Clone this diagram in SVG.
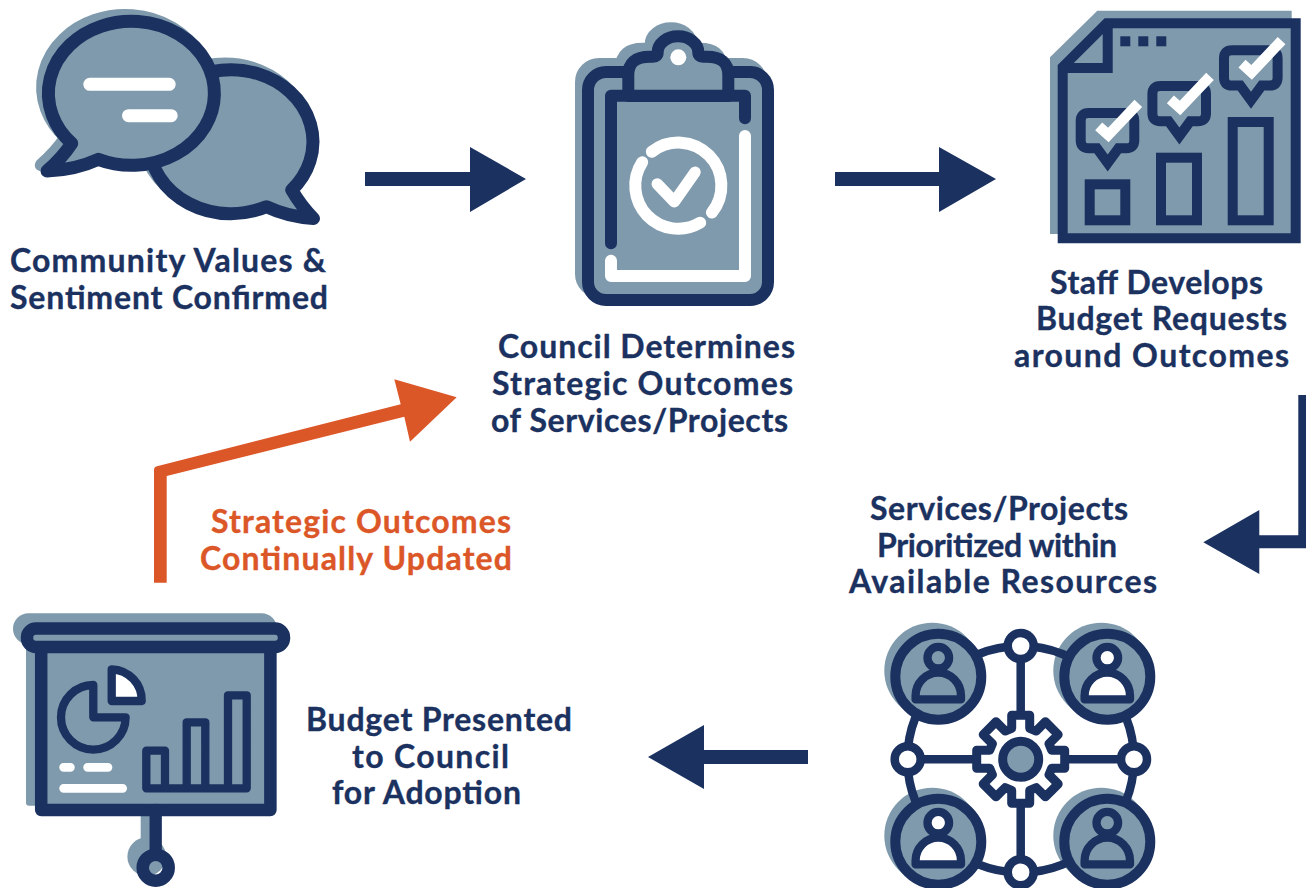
<svg xmlns="http://www.w3.org/2000/svg" width="1306" height="888" viewBox="0 0 1306 888">
<style>
.n{stroke:#1b3160;fill:none;stroke-linecap:round;stroke-linejoin:round}
.sl{fill:#7f9aac}
.nf{fill:#1b3160}
.w{stroke:#fff;fill:none;stroke-linecap:round;stroke-linejoin:round}
.or{fill:#dc5728}
text{font-family:"Lato","Liberation Sans",sans-serif;font-weight:700;font-size:32px;fill:#1b3160;stroke:#1b3160;stroke-width:.35px}
text.ot{fill:#dc5728;stroke:#dc5728}
</style>
<defs>
<path id="lb" d="M71.7,143.3A83,72 0 1 1 98.3,159.3Q75,170 47,171Q62,158 71.7,143.3Z"/>
<path id="rb" d="M291.8,190A82,72 0 1 0 266.3,206.7Q288,217 313.5,218.5Q301,206 291.8,190Z"/>
<path id="body" d="M-22.7,22.7V19A22.7,23 0 0 1 22.7,19V22.7Z"/>
<g id="pin"><path d="M1088.7,113H1126.3Q1134.3,113 1134.3,121V140.3Q1134.3,148.3 1126.3,148.3H1118.5L1107.7,163L1096.9,148.3H1088.7Q1080.7,148.3 1080.7,140.3V121Q1080.7,113 1088.7,113Z" fill="#7f9aac" stroke="#1b3160" stroke-width="10" stroke-miterlimit="8"/><path d="M1098.7,126.3L1108.3,135L1138.3,103.3" fill="none" stroke="#fff" stroke-width="10.5"/></g>
<g id="pers"><circle cx="0" cy="0" r="43" fill="#7f9aac" stroke="#1b3160" stroke-width="10"/></g>
</defs>
<g id="connectors">
<path class="nf" d="M365,172H470V147L526,179L470,212V186H365Z"/>
<path class="nf" d="M835,172H939V147L996,179L939,212V186H835Z"/>
<path class="nf" d="M1298.3,395H1306V548.3H1259.3V574L1203.3,542.3L1259.3,510V535.3H1298.3Z"/>
<path class="nf" d="M808,750H704V725L648,757L704,789V764H808Z"/>
<path class="or" d="M154,582.7V470Q154,467 157,466.2L400.7,404.3L394.3,379.3L456.7,397.3L410,441.7L404.3,416.7L166.7,476V582.7Z"/>
</g>
<g id="node-community">
<g class="sl" stroke="#7f9aac" stroke-width="12.5" stroke-linejoin="round" transform="translate(-6,-6)"><use href="#rb"/><use href="#lb"/></g>
<g class="sl" stroke="#1b3160" stroke-width="13" stroke-linejoin="round"><use href="#rb"/><use href="#lb"/></g>
<path class="w" stroke-width="13" d="M89.8,84.3H169.2M128.5,115.7H171.2"/>
<text x="10" y="272" textLength="316">Community Values &amp;</text>
<text x="10" y="309" textLength="318">Sentiment Confirmed</text>
</g>
<g id="node-council">
<g transform="translate(-7,-8)" class="sl" stroke="#7f9aac" stroke-width="12" stroke-linejoin="round"><rect x="588" y="72" width="180" height="228" rx="18"/><path d="M628.3,90V75Q628.3,56.7 650,56.7H653Q657.7,56.7 657.7,52.3A20.3,16 0 0 1 698.3,52.3Q698.3,56.7 703,56.7H706.7Q728.3,56.7 728.3,75V90Z"/></g>
<rect x="588" y="72" width="180" height="228" rx="18" class="sl" stroke="#1b3160" stroke-width="12"/>
<path class="sl" stroke="#1b3160" stroke-width="12" stroke-linejoin="round" d="M628.3,96V75Q628.3,56.7 650,56.7H653Q657.7,56.7 657.7,52.3A20.3,16 0 0 1 698.3,52.3Q698.3,56.7 703,56.7H706.7Q728.3,56.7 728.3,75V96Z"/>
<circle cx="678.3" cy="57.3" r="8" fill="#fff"/>
<path class="n" stroke-width="12" d="M611,243.3V95.7H745V118.3"/>
<path class="w" stroke-width="12" d="M745,136V276H611V260.7"/>
<path class="w" stroke-width="12" d="M651.8,151.8A43,43 0 0 1 711.95,212.47M642.2,162.3A43,43 0 0 0 700.2,222.7"/>
<path class="w" stroke-width="11.5" d="M657.3,184L674.3,201.7L695,172.3"/>
<text x="498" y="358" textLength="297">Council Determines</text>
<text x="492" y="395" textLength="301">Strategic Outcomes</text>
<text x="491" y="432" textLength="297">of Services/Projects</text>
</g>
<g id="node-staff">
<path class="sl" d="M1097.3,10.7H1291.7V234H1050V57.3Z"/>
<path class="sl" stroke="#1b3160" stroke-width="10" stroke-miterlimit="8" d="M1106.7,23.3H1295.7V238.3H1062.7V67Z"/>
<path fill="none" stroke="#1b3160" stroke-width="10" d="M1107.7,23V68H1062"/>
<rect class="nf" x="1120.3" y="36.3" width="10" height="10"/><rect class="nf" x="1138.3" y="36.3" width="10" height="10"/><rect class="nf" x="1156.3" y="36.3" width="10" height="10"/>
<g fill="none" stroke="#1b3160" stroke-width="10"><rect x="1089.7" y="184.3" width="35.6" height="36"/><rect x="1161" y="157.7" width="36" height="62.6"/><rect x="1232.7" y="122" width="36" height="98.3"/></g>
<use href="#pin"/><use href="#pin" x="71.7" y="-27"/><use href="#pin" x="143.3" y="-62.7"/>
<text x="1050" y="294" textLength="213">Staff Develops</text>
<text x="1036" y="330" textLength="251">Budget Requests</text>
<text x="1014" y="367" textLength="275">around Outcomes</text>
</g>
<g id="node-prioritized">
<g class="sl"><circle cx="932.3" cy="670.7" r="48"/><circle cx="1101.3" cy="670.7" r="48"/><circle cx="932.3" cy="835.7" r="48"/><circle cx="1101.3" cy="835.7" r="48"/></g>
<circle class="n" stroke-width="8.5" cx="1020.7" cy="759.3" r="113.3"/>
<path class="n" stroke-width="8.5" d="M1020.7,646V872.3M907.7,759.3H1134"/>
<use href="#pers" x="938.3" y="676.7"/><use href="#pers" x="1107.3" y="676.7"/><use href="#pers" x="938.3" y="841.7"/><use href="#pers" x="1107.3" y="841.7"/>
<g stroke="#1b3160" stroke-width="8.3" stroke-linejoin="round">
<g class="sl" transform="translate(938.3,676.7)"><use href="#body"/><circle cy="-19" r="10.8"/></g>
<g fill="#fff" transform="translate(1107.3,676.7)"><use href="#body"/><circle cy="-19" r="10.8"/></g>
<g fill="#fff" transform="translate(938.3,841.7)"><use href="#body"/><circle cy="-19" r="10.8"/></g>
<g class="sl" transform="translate(1107.3,841.7)"><use href="#body"/><circle cy="-19" r="10.8"/></g>
</g>
<g fill="#fff" stroke="#1b3160" stroke-width="8.5"><circle cx="1020.7" cy="646" r="13"/><circle cx="907.7" cy="759.3" r="13"/><circle cx="1134" cy="759.3" r="13"/><circle cx="1020.7" cy="872.3" r="13"/></g>
<path transform="translate(1020.7,759.3)" fill="#fff" stroke="#1b3160" stroke-width="9" stroke-linejoin="round" d="M-9,-31V-44H9V-31L15.5,-28.3L24.7,-37.5L37.5,-24.7L28.3,-15.5L31,-9H44V9H31L28.3,15.5L37.5,24.7L24.7,37.5L15.5,28.3L9,31V44H-9V31L-15.5,28.3L-24.7,37.5L-37.5,24.7L-28.3,15.5L-31,9H-44V-9H-31L-28.3,-15.5L-37.5,-24.7L-24.7,-37.5L-15.5,-28.3Z"/>
<circle class="sl" cx="1020.7" cy="759.3" r="18" stroke="#1b3160" stroke-width="9"/>
<text x="870" y="520" textLength="258">Services/Projects</text>
<text x="877" y="557" textLength="240">Prioritized within</text>
<text x="849" y="593" textLength="308">Available Resources</text>
</g>
<g id="node-budget">
<g class="sl"><rect x="13" y="613.3" width="264" height="31" rx="15.5"/><rect x="26" y="635" width="240" height="170.7" rx="3"/><rect x="140.7" y="800" width="12" height="45"/><circle cx="146.7" cy="856.7" r="19.3"/></g>
<rect class="sl" x="41.2" y="640" width="229.2" height="170" stroke="#1b3160" stroke-width="12.5" stroke-linejoin="round"/>
<rect class="sl" x="27" y="628.5" width="257" height="18.5" rx="9" stroke="#1b3160" stroke-width="12.5"/>
<path class="n" stroke-width="12.3" stroke-linecap="butt" d="M155.7,810V852"/>
<circle cx="155.7" cy="867.7" r="13" fill="none" stroke="#1b3160" stroke-width="12.5"/>
<path class="sl" stroke="#1b3160" stroke-width="8.3" stroke-linejoin="round" d="M93.3,717.3V685A32.3,32.3 0 1 0 125.6,717.3Z"/>
<path fill="#fff" stroke="#1b3160" stroke-width="8.3" stroke-linejoin="round" d="M111.7,701V669.3A31,31 0 0 1 141.7,701Z"/>
<path class="n" stroke-width="8.3" d="M146.3,788.3V750.7H165V788.3H186.7V722.3H205.3V788.3H228V695.3H246.7V788.3Z"/>
<path class="w" stroke-width="8.7" d="M63.6,767.3H70.4M87.6,767.3H108M63.6,788.3H122.7"/>
<text x="306" y="731" textLength="266">Budget Presented</text>
<text x="352" y="768" textLength="157">to Council</text>
<text x="332" y="804" textLength="189">for Adoption</text>
</g>
<g id="label-updated">
<text class="ot" x="211" y="533" textLength="300">Strategic Outcomes</text>
<text class="ot" x="200" y="570" textLength="312">Continually Updated</text>
</g>
</svg>
